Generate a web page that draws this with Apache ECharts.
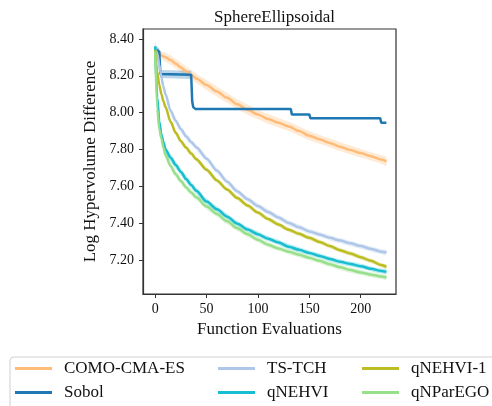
<!DOCTYPE html>
<html><head><meta charset="utf-8">
<script src="https://cdn.jsdelivr.net/npm/echarts@6/dist/echarts.min.js"></script>
<style>html,body{margin:0;padding:0;background:#fff}#c{width:492px;height:406px}</style>
</head><body><div id="c"></div><script>
const TITLE = 'SphereEllipsoidal';
const X_TICKS = [0, 50, 100, 150, 200];
const Y_TICKS = [7.2, 7.4, 7.6, 7.8, 8.0, 8.2, 8.4];
const X = [0,2,4,6,8,10,15,20,25,30,35,40,50,60,70,80,90,100,110,120,130,140,150,160,170,180,190,200,210,220,225];
const COMO = [8.335,8.33,8.32,8.31,8.305,8.30,8.285,8.265,8.245,8.225,8.205,8.185,8.15,8.115,8.08,8.045,8.015,7.99,7.965,7.945,7.925,7.90,7.875,7.855,7.835,7.815,7.797,7.78,7.763,7.745,7.735];
const COMO_BAND = [0.02,0.02,0.022,0.022,0.024,0.025,0.025,0.026,0.026,0.026,0.026,0.026,0.027,0.027,0.027,0.027,0.027,0.026,0.026,0.026,0.025,0.025,0.025,0.024,0.024,0.024,0.024,0.023,0.023,0.023,0.023];
const SOBOL_X = [0,4,5,35,36,37,39,132,133,150,151,219,220,225];
const SOBOL = [8.345,8.33,8.21,8.205,8.06,8.03,8.02,8.02,7.99,7.99,7.97,7.97,7.945,7.945];
const SOBOL_BAND = [0.02,0.02,0.022,0.022,0.01,0.004,0.002,0.002,0.002,0.002,0.002,0.002,0.002,0.002];
const TSTCH = [8.35,8.32,8.26,8.19,8.14,8.10,8.01,7.955,7.91,7.872,7.84,7.812,7.75,7.685,7.625,7.572,7.53,7.493,7.46,7.43,7.40,7.378,7.355,7.338,7.32,7.305,7.29,7.275,7.26,7.245,7.24];
const TSTCH_BAND = [0.02,0.02,0.02,0.02,0.018,0.018,0.017,0.017,0.016,0.016,0.016,0.016,0.016,0.016,0.015,0.015,0.015,0.015,0.015,0.015,0.015,0.015,0.014,0.014,0.014,0.014,0.014,0.014,0.014,0.014,0.014];
const QNEHVI = [8.36,8.08,7.95,7.88,7.84,7.80,7.755,7.715,7.678,7.64,7.607,7.575,7.517,7.475,7.435,7.397,7.365,7.34,7.315,7.295,7.272,7.255,7.238,7.222,7.205,7.19,7.178,7.166,7.152,7.14,7.135];
const QNEHVI_BAND = [0.03,0.04,0.035,0.03,0.025,0.022,0.02,0.02,0.018,0.018,0.018,0.017,0.016,0.016,0.015,0.015,0.015,0.015,0.014,0.014,0.014,0.014,0.013,0.013,0.013,0.013,0.013,0.013,0.013,0.013,0.013];
const QNEHVI1 = [8.34,8.22,8.15,8.10,8.062,8.03,7.95,7.89,7.845,7.81,7.778,7.747,7.69,7.632,7.582,7.536,7.495,7.457,7.422,7.392,7.364,7.342,7.32,7.298,7.275,7.253,7.235,7.215,7.195,7.172,7.163];
const QNEHVI1_BAND = [0.02,0.02,0.018,0.016,0.015,0.015,0.014,0.014,0.013,0.013,0.013,0.013,0.013,0.012,0.012,0.012,0.012,0.012,0.012,0.012,0.012,0.012,0.012,0.012,0.012,0.012,0.012,0.012,0.012,0.012,0.012];
const QNPAREGO = [8.33,8.02,7.91,7.86,7.81,7.77,7.71,7.665,7.628,7.595,7.566,7.54,7.49,7.45,7.41,7.372,7.34,7.31,7.283,7.262,7.245,7.228,7.212,7.195,7.177,7.16,7.145,7.132,7.12,7.11,7.105];
const QNPAREGO_BAND = [0.03,0.03,0.028,0.025,0.022,0.02,0.018,0.018,0.017,0.017,0.016,0.016,0.016,0.015,0.015,0.015,0.015,0.015,0.014,0.014,0.014,0.014,0.014,0.014,0.014,0.014,0.014,0.014,0.014,0.014,0.014];

const FONT = '"Liberation Serif", "DejaVu Serif", serif';
const SERIES = [
  {name:'COMO-CMA-ES', xs:X, ys:COMO, bw:COMO_BAND, color:'#ffbb78', step:false},
  {name:'Sobol', xs:SOBOL_X, ys:SOBOL, bw:SOBOL_BAND, color:'#1f77b4', step:true},
  {name:'TS-TCH', xs:X, ys:TSTCH, bw:TSTCH_BAND, color:'#aec7e8', step:false},
  {name:'qNEHVI', xs:X, ys:QNEHVI, bw:QNEHVI_BAND, color:'#17becf', step:false},
  {name:'qNEHVI-1', xs:X, ys:QNEHVI1, bw:QNEHVI1_BAND, color:'#bcbd22', step:false},
  {name:'qNParEGO', xs:X, ys:QNPAREGO, bw:QNPAREGO_BAND, color:'#98df8a', step:false}
];

function bandSeries(s, z) {
  const data = s.xs.map((x, i) => [x, s.ys[i] - s.bw[i], s.ys[i] + s.bw[i]]);
  return {
    type: 'custom', name: s.name + ' band', z: z, silent: true,
    data: data, encode: {x: 0, y: [1, 2]},
    renderItem: function (params, api) {
      if (params.dataIndex !== 0) return null;
      const pts = [];
      for (let i = 0; i < data.length; i++) pts.push(api.coord([data[i][0], data[i][2]]));
      for (let i = data.length - 1; i >= 0; i--) pts.push(api.coord([data[i][0], data[i][1]]));
      return {type: 'polygon', shape: {points: pts, smooth: s.step ? 0 : 0.25}, style: {fill: s.color, opacity: 0.3}};
    }
  };
}

const series = [];
SERIES.forEach((s, k) => {
  series.push(bandSeries(s, 1 + k));
  series.push({
    type: 'line', name: s.name, z: 10 + k,
    data: s.xs.map((x, i) => [x, s.ys[i]]),
    showSymbol: false, symbol: 'none',
    smooth: s.step ? false : 0.3, smoothMonotone: 'x',
    lineStyle: {color: s.color, width: 2.5}, itemStyle: {color: s.color},
    animation: false
  });
});

function legendCol(names, left) {
  return {
    orient: 'vertical', left: left, top: 360, padding: 0, itemGap: 7,
    icon: 'rect', itemWidth: 37, itemHeight: 3, data: names,
    textStyle: {fontFamily: FONT, fontSize: 17, color: '#111', padding: [0, 0, 0, 7], lineHeight: 17}
  };
}

const chart = echarts.init(document.getElementById('c'), null, {renderer: 'canvas'});
chart.setOption({
  animation: false,
  backgroundColor: '#fff',
  title: {text: TITLE, left: 269.5, textAlign: 'center', top: 4,
    textStyle: {fontFamily: FONT, fontSize: 17, fontWeight: 'normal', color: '#111'}},
  grid: {left: 143, right: 96, top: 29, bottom: 112, show: true, borderColor: '#333', borderWidth: 1.2},
  xAxis: {
    type: 'value', min: -11.9, max: 234.4,
    name: 'Function Evaluations', nameLocation: 'middle', nameGap: 27,
    nameTextStyle: {fontFamily: FONT, fontSize: 17, color: '#111'},
    axisLine: {show: true, onZero: false, lineStyle: {color: '#333', width: 1.2}},
    axisTick: {show: true, customValues: X_TICKS, length: 4, lineStyle: {color: '#333'}},
    axisLabel: {customValues: X_TICKS, margin: 8, fontFamily: FONT, fontSize: 14, color: '#111'},
    splitLine: {show: false}
  },
  yAxis: {
    type: 'value', min: 7.015, max: 8.454,
    name: 'Log Hypervolume Difference', nameLocation: 'middle', nameGap: 34,
    nameTextStyle: {fontFamily: FONT, fontSize: 17, color: '#111'},
    axisLine: {show: true, onZero: false, lineStyle: {color: '#333', width: 1.2}},
    axisTick: {show: true, customValues: Y_TICKS, length: 4, lineStyle: {color: '#333'}},
    axisLabel: {customValues: Y_TICKS, margin: 9, fontFamily: FONT, fontSize: 14, color: '#111',
      formatter: v => Number(v).toFixed(2)},
    splitLine: {show: false}
  },
  legend: [
    legendCol(['COMO-CMA-ES', 'Sobol'], 15),
    legendCol(['TS-TCH', 'qNEHVI'], 218),
    legendCol(['qNEHVI-1', 'qNParEGO'], 362)
  ],
  graphic: [{type: 'rect', left: 9.5, top: 356.5, z: -1,
    shape: {width: 520, height: 80, r: 4}, style: {fill: '#fff', stroke: '#d0d0d0', lineWidth: 1}}],
  series: series
});
</script></body></html>
